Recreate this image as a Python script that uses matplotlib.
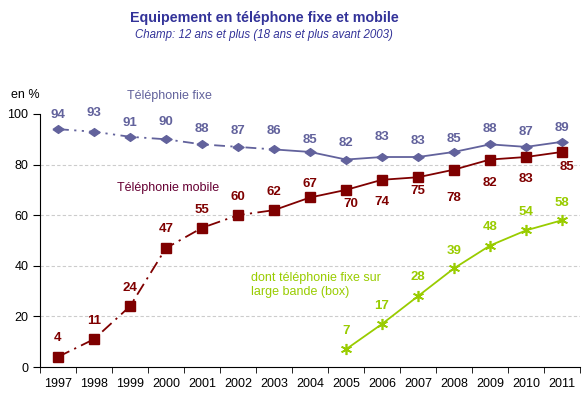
import matplotlib.pyplot as plt

plt.rcParams['font.family'] = ['Liberation Sans', 'DejaVu Sans']

years = list(range(1997, 2012))
fixe = [94, 93, 91, 90, 88, 87, 86, 85, 82, 83, 83, 85, 88, 87, 89]
mobile = [4, 11, 24, 47, 55, 60, 62, 67, 70, 74, 75, 78, 82, 83, 85]
box_years = list(range(2005, 2012))
box = [7, 17, 28, 39, 48, 54, 58]

# décalage vertical des étiquettes (pixels, positif = au-dessus)
off_fixe = [14, 19, 14, 17, 15, 16, 18, 12, 17, 20, 16, 13, 15, 15, 14]
off_mob = [19, 18, 18, 19, 18, 18, 18, 13, -14, -22, -14, -28, -23, -22, -15]
off_box = [18, 18, 19, 17, 19, 18, 17]

c_fixe = '#62629c'
c_mob = '#7f0000'
c_box = '#99cc00'
c_title = '#333399'

# losange aplati comme dans l'original
diamond = [(-1, 0), (0, 0.7), (1, 0), (0, -0.7), (-1, 0)]

fig = plt.figure(figsize=(5.87, 3.99), dpi=100)
ax = fig.add_axes([40 / 587, 32 / 399, 540 / 587, 253 / 399])

x = list(range(len(years)))
xb = [years.index(y) for y in box_years]
cut = years.index(2003)

# fixe : pointillé avant 2003, plein ensuite
ax.plot(x[:cut + 1], fixe[:cut + 1], color=c_fixe, lw=1.3, dashes=[6, 3, 1.2, 3, 1.2, 3])
ax.plot(x[cut:], fixe[cut:], color=c_fixe, lw=1.3)
ax.plot(x, fixe, ls='none', marker=diamond, ms=8, color=c_fixe, clip_on=False)

ax.plot(x[:cut + 1], mobile[:cut + 1], color=c_mob, lw=1.3, dashes=[7, 3, 1.2, 3])
ax.plot(x[cut:], mobile[cut:], color=c_mob, lw=1.3)
ax.plot(x, mobile, ls='none', marker='s', ms=7.3, color=c_mob, clip_on=False)

ax.plot(xb, box, color=c_box, lw=1.3, marker=(6, 2, 0), ms=8, mew=1.2)


def label(xv, yv, dy, col, dx=0):
    ax.annotate(str(yv), (xv, yv), xytext=(dx * 0.72, dy * 0.72),
                textcoords='offset points', ha='center', va='center',
                fontsize=9.5, fontweight='bold', color=col, annotation_clip=False)


for i, v in enumerate(fixe):
    label(i, v, off_fixe[i], c_fixe)
for i, v in enumerate(mobile):
    label(i, v, off_mob[i], c_mob, dx=5 if years[i] in (2005, 2011) else 0)
for k, (i, v) in enumerate(zip(xb, box)):
    label(i, v, off_box[k], c_box)

ax.text(1.92, 107, 'Téléphonie fixe', fontsize=9, color=c_fixe, va='center')
ax.text(1.64, 70.8, 'Téléphonie mobile', fontsize=9, color='#660033', va='center')
ax.text(5.36, 32.4, 'dont téléphonie fixe sur\nlarge bande (box)', fontsize=9,
        color=c_box, va='center', linespacing=1.2)
ax.text(-0.5, 107.5, 'en %', fontsize=9, ha='right', va='center')

for g in [20, 40, 60, 80]:
    ax.axhline(g, color='#cccccc', lw=0.8, ls=(0, (3, 2)), zorder=0)

ax.set_xlim(-0.5, len(years) - 0.5)
ax.set_ylim(0, 100)
ax.set_yticks([0, 20, 40, 60, 80, 100])
ax.set_xticks(x)
ax.set_xticklabels([str(y) for y in years])
ax.set_xticks([i - 0.5 for i in range(len(years) + 1)], minor=True)
ax.tick_params(axis='x', which='major', length=0, labelsize=9, pad=8)
ax.tick_params(axis='x', which='minor', length=4)
ax.tick_params(axis='y', labelsize=9, length=5)
for s in ['top', 'right']:
    ax.spines[s].set_visible(False)

fig.text(264 / 587, 1 - 18 / 399, 'Equipement en téléphone fixe et mobile',
         ha='center', va='center', fontsize=10.3, fontweight='bold', color=c_title)
fig.text(264 / 587, 1 - 35 / 399, 'Champ: 12 ans et plus (18 ans et plus avant 2003)',
         ha='center', va='center', fontsize=8.3, style='italic', color=c_title)

fig.savefig('out.png', dpi=100)
